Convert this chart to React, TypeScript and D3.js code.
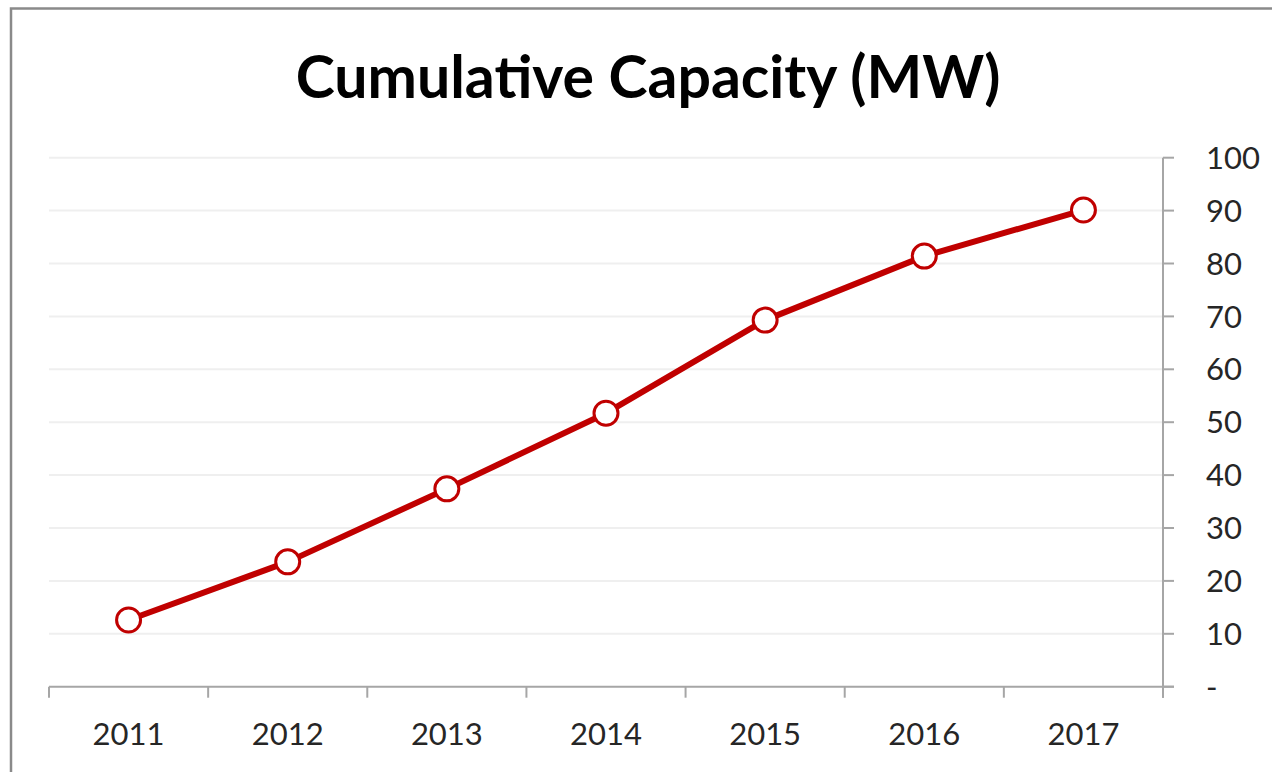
import React from "react";
import * as d3 from "d3";

const years = ["2011", "2012", "2013", "2014", "2015", "2016", "2017"];
const capacity = [12.6, 23.6, 37.4, 51.7, 69.3, 81.4, 90.1];
const yTicks = [0, 10, 20, 30, 40, 50, 60, 70, 80, 90, 100];
const title = "Cumulative Capacity (MW)";

const W = 1272;
const H = 772;
const FONT = "Lato, 'Open Sans', sans-serif";

export default function App() {
  const x = d3.scaleBand<string>().domain(years).range([49, 1163]);
  const y = d3.scaleLinear().domain([0, 100]).range([686.7, 157.7]);
  const line = d3
    .line<number>()
    .x((_, i) => (x(years[i]) as number) + x.bandwidth() / 2)
    .y((d) => y(d));
  const [x0, x1] = x.range();
  const xBoundaries = years.map((yr) => x(yr) as number).concat([x1]);

  return (
    <svg
      width={W}
      height={H}
      style={{ position: "absolute", left: 0, top: 0, background: "#fff" }}
    >
      <rect x={0} y={0} width={W} height={H} fill="#fff" />
      <rect
        x={11}
        y={8.5}
        width={W + 20}
        height={H + 20}
        fill="none"
        stroke="#8a8a8a"
        strokeWidth={2.5}
      />
      <text
        x={648}
        y={98}
        textAnchor="middle"
        fontFamily={FONT}
        fontWeight={700}
        fontSize={59}
        fill="#000"
      >
        {title}
      </text>
      {/* gridlines */}
      {yTicks
        .filter((t) => t > 0)
        .map((t) => (
          <line
            key={"g" + t}
            x1={x0}
            x2={x1}
            y1={y(t)}
            y2={y(t)}
            stroke="#efefef"
            strokeWidth={2}
          />
        ))}
      {/* x axis */}
      <line x1={x0} x2={x1 + 11} y1={y(0)} y2={y(0)} stroke="#a6a6a6" strokeWidth={2} />
      {xBoundaries.map((bx, i) => (
        <line
          key={"xt" + i}
          x1={bx}
          x2={bx}
          y1={y(0)}
          y2={y(0) + 11}
          stroke="#a6a6a6"
          strokeWidth={2}
        />
      ))}
      {years.map((yr) => (
        <text
          key={"xl" + yr}
          x={(x(yr) as number) + x.bandwidth() / 2}
          y={745}
          textAnchor="middle"
          fontFamily={FONT}
          fontSize={31}
          fill="#262626"
        >
          {yr}
        </text>
      ))}
      {/* y axis on right */}
      <line x1={x1} x2={x1} y1={y(100)} y2={y(0) + 11} stroke="#a6a6a6" strokeWidth={2} />
      {yTicks.map((t) => (
        <g key={"yt" + t}>
          <line
            x1={x1}
            x2={x1 + 11}
            y1={y(t)}
            y2={y(t)}
            stroke="#a6a6a6"
            strokeWidth={2}
          />
          <text
            x={1206}
            y={y(t)}
            dy="0.36em"
            fontFamily={FONT}
            fontSize={31}
            fill="#262626"
          >
            {t === 0 ? "-" : t}
          </text>
        </g>
      ))}
      {/* series */}
      <path
        d={line(capacity) || ""}
        fill="none"
        stroke="#c00000"
        strokeWidth={6}
        strokeLinejoin="round"
      />
      {capacity.map((v, i) => (
        <circle
          key={"p" + i}
          cx={(x(years[i]) as number) + x.bandwidth() / 2}
          cy={y(v)}
          r={12}
          fill="#fff"
          stroke="#c00000"
          strokeWidth={3}
        />
      ))}
    </svg>
  );
}
